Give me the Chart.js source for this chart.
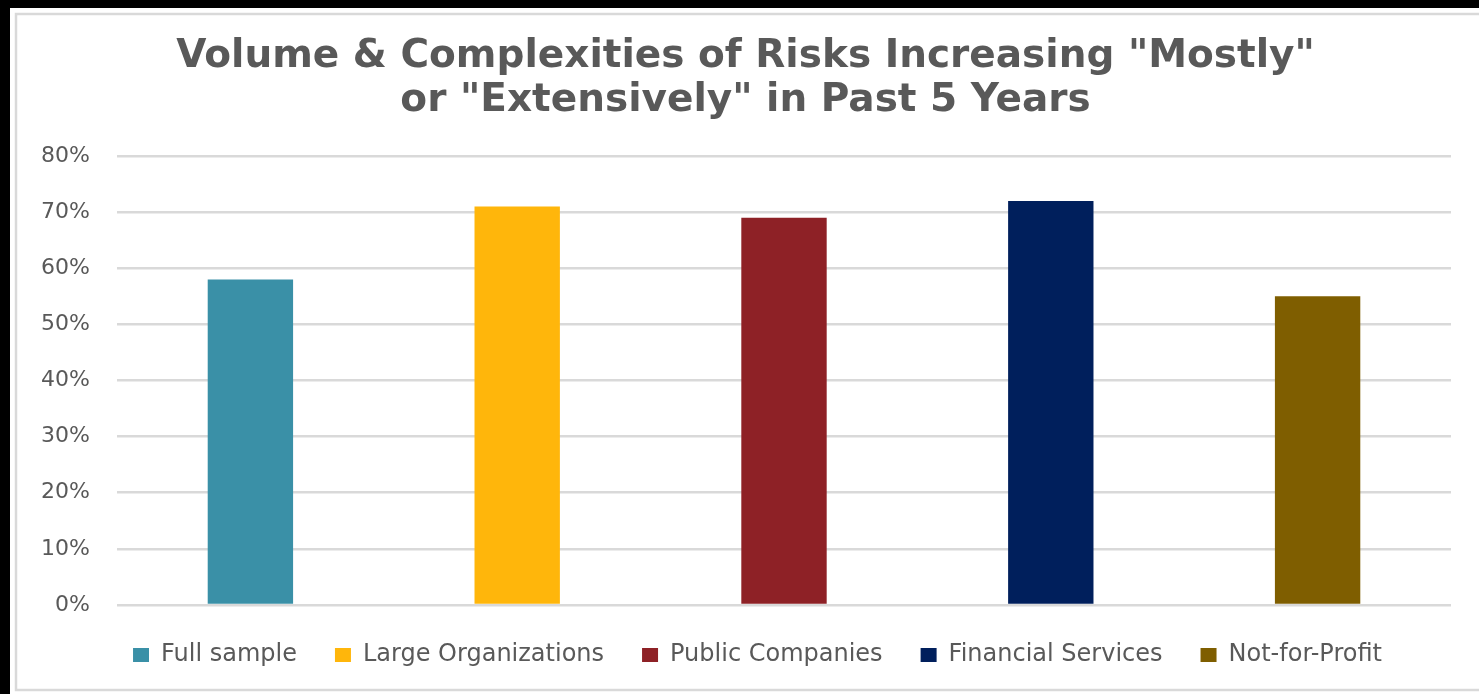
<!DOCTYPE html>
<html>
<head>
<meta charset="utf-8">
<script src="https://cdn.jsdelivr.net/npm/chart.js@4/dist/chart.umd.min.js"></script>
<style>
html,body{margin:0;padding:0;background:#000;}
#wrap{position:absolute;left:0;top:0;width:1479px;height:694px;}
</style>
</head>
<body>
<div id="wrap"><canvas id="c" width="1479" height="694"></canvas></div>
<script>
const categories = ["Full sample", "Large Organizations", "Public Companies", "Financial Services", "Not-for-Profit"];
const values = [58, 71, 69, 72, 55];
const barColors = ["#3A90A7", "#FFB60B", "#8E2126", "#001F5C", "#7F5E00"];
const yTicks = [0, 10, 20, 30, 40, 50, 60, 70, 80];
const titleLines = ['Volume & Complexities of Risks Increasing "Mostly"', 'or "Extensively" in Past 5 Years'];

const FONT = "'DejaVu Sans', sans-serif";

const framePlugin = {
  id: 'frame',
  beforeDraw(chart) {
    const ctx = chart.ctx;
    ctx.save();
    ctx.fillStyle = '#000';
    ctx.fillRect(0, 0, chart.width, chart.height);
    ctx.fillStyle = '#fff';
    ctx.fillRect(10, 8, chart.width - 10, chart.height - 8);
    ctx.strokeStyle = '#d9d9d9';
    ctx.lineWidth = 2.5;
    ctx.strokeRect(16, 14, chart.width + 10, 676);
    ctx.restore();
  }
};

// shift title and legend slightly right to match the reference centring
const shiftPlugin = {
  id: 'shift',
  afterLayout(chart) {
    if (chart.titleBlock) { chart.titleBlock.left += 12; chart.titleBlock.right += 12; }
    if (chart.legend) { chart.legend.left += 24; chart.legend.right += 24; }
  }
};

new Chart(document.getElementById('c'), {
  type: 'bar',
  data: {
    labels: categories,
    datasets: [{
      data: values,
      backgroundColor: barColors,
      borderWidth: 0,
      barPercentage: 0.64,
      categoryPercentage: 0.5
    }]
  },
  options: {
    responsive: false,
    animation: false,
    devicePixelRatio: 1,
    layout: { padding: { left: 16, right: 28, top: 14, bottom: 17 } },
    scales: {
      x: {
        grid: { display: false },
        border: { display: false },
        ticks: { display: false },
        afterFit(s) { s.height = 0; }
      },
      y: {
        min: 0, max: 80,
        afterBuildTicks(s) { s.ticks = yTicks.map(v => ({ value: v })); },
        afterFit(s) { s.width = 101; },
        grid: { color: '#d9d9d9', lineWidth: 2.5, drawTicks: false },
        border: { display: false },
        ticks: {
          padding: 27,
          color: '#595959',
          font: { family: FONT, size: 22 },
          callback: v => v + '%'
        }
      }
    },
    plugins: {
      title: {
        display: true,
        text: titleLines,
        color: '#595959',
        font: { family: FONT, size: 39, weight: 'bold', lineHeight: 1.128 },
        padding: { top: 21, bottom: 33 }
      },
      legend: {
        position: 'bottom',
        labels: {
          color: '#595959',
          font: { family: FONT, size: 24 },
          boxWidth: 16,
          boxHeight: 14,
          padding: 38,
          generateLabels(chart) {
            return categories.map((c, i) => ({
              text: c,
              fillStyle: barColors[i],
              strokeStyle: barColors[i],
              lineWidth: 0,
              fontColor: '#595959',
              index: i
            }));
          }
        }
      },
      tooltip: { enabled: false }
    }
  },
  plugins: [framePlugin, shiftPlugin]
});
</script>
</body>
</html>
